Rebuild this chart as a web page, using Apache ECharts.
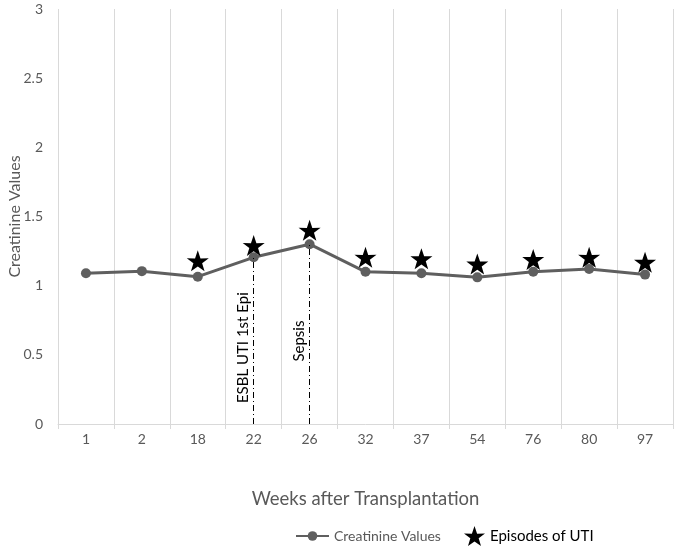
<!DOCTYPE html>
<html>
<head>
<meta charset="utf-8">
<script src="https://cdn.jsdelivr.net/npm/echarts@6/dist/echarts.min.js"></script>
<style>html,body{margin:0;padding:0;background:#fff;}#c{width:678px;height:548px;}</style>
</head>
<body>
<div id="c"></div>
<script>
const weeks = ['1','2','18','22','26','32','37','54','76','80','97'];
const creatinine = [1.09, 1.105, 1.065, 1.205, 1.30, 1.10, 1.09, 1.06, 1.10, 1.12, 1.08];
const utiWeeks = ['18','22','26','32','37','54','76','80','97'];
const utiValues = [1.18, 1.29, 1.40, 1.205, 1.195, 1.157, 1.19, 1.205, 1.17];
const events = [
  { week: '22', label: 'ESBL UTI 1st Epi' },
  { week: '26', label: 'Sepsis' }
];
const yTicks = { min: 0, max: 3, interval: 0.5 };

const STAR = 'path://M50,0 L61.8,35.1 L97.6,34.5 L68.9,56 L79.4,90.5 L50,70 L20.6,90.5 L31.1,56 L2.4,34.5 L38.2,35.1 Z';
const FONT = 'Lato, "Open Sans", sans-serif';

const eventLines = events.map(e => {
  const v = creatinine[weeks.indexOf(e.week)];
  return [
    { coord: [e.week, 0] },
    { coord: [e.week, v], label: { formatter: e.label } }
  ];
});

const chart = echarts.init(document.getElementById('c'), null, { renderer: 'canvas' });
chart.setOption({
  animation: false,
  backgroundColor: '#ffffff',
  textStyle: { fontFamily: FONT },
  grid: { left: 58, right: 5, top: 9, bottom: 124, containLabel: false, outerBoundsMode: 'none' },
  legend: [
    {
      left: 290, top: 524,
      itemWidth: 33, itemHeight: 12,
      itemGap: 0,
      data: [
        { name: 'Creatinine Values', textStyle: { color: '#595959', fontSize: 14, fontFamily: FONT } }
      ]
    },
    {
      left: 459, top: 521,
      itemWidth: 21, itemHeight: 20,
      itemGap: 0,
      data: [
        { name: 'Episodes of UTI', itemStyle: { color: '#000', opacity: 1 }, textStyle: { color: '#000', fontSize: 15, fontFamily: FONT } }
      ]
    }
  ],
  xAxis: {
    type: 'category',
    data: weeks,
    boundaryGap: true,
    name: 'Weeks after Transplantation',
    nameLocation: 'middle',
    nameGap: 66,
    nameMoveOverlap: false,
    nameTextStyle: { color: '#595959', fontSize: 18.5, fontFamily: FONT },
    axisLine: { show: true, lineStyle: { color: '#d9d9d9', width: 1 } },
    axisTick: { show: true, length: 5, lineStyle: { color: '#d9d9d9' } },
    axisLabel: { color: '#595959', fontSize: 14, margin: 8, fontFamily: FONT },
    splitLine: { show: true, lineStyle: { color: '#d9d9d9', width: 1 } }
  },
  yAxis: {
    type: 'value',
    min: yTicks.min, max: yTicks.max, interval: yTicks.interval,
    name: 'Creatinine Values',
    nameLocation: 'middle',
    nameGap: 35,
    nameMoveOverlap: false,
    nameTextStyle: { color: '#595959', fontSize: 16, fontFamily: FONT },
    axisLine: { show: false },
    axisTick: { show: false },
    axisLabel: { color: '#595959', fontSize: 14, margin: 15, fontFamily: FONT },
    splitLine: { show: false }
  },
  series: [
    {
      name: 'Creatinine Values',
      type: 'line',
      data: creatinine,
      symbol: 'circle',
      symbolSize: 10,
      lineStyle: { color: '#5f5f5f', width: 3 },
      itemStyle: { color: '#5f5f5f' },
      z: 3,
      markLine: {
        silent: true,
        symbol: ['none', 'none'],
        lineStyle: { color: '#000', width: 1, type: [6, 3, 1, 3] },
        label: {
          show: true,
          position: 'insideMiddleTop',
          color: '#000',
          fontSize: 15,
          fontFamily: FONT,
          distance: 3,
          padding: [0, 14, 0, 0]
        },
        data: eventLines
      }
    },
    {
      name: 'Episodes of UTI',
      type: 'scatter',
      data: utiWeeks.map((w, i) => [w, utiValues[i]]),
      symbol: STAR,
      symbolSize: [22, 21],
      itemStyle: { color: '#000', opacity: 1 },
      z: 4
    }
  ]
});
</script>
</body>
</html>
